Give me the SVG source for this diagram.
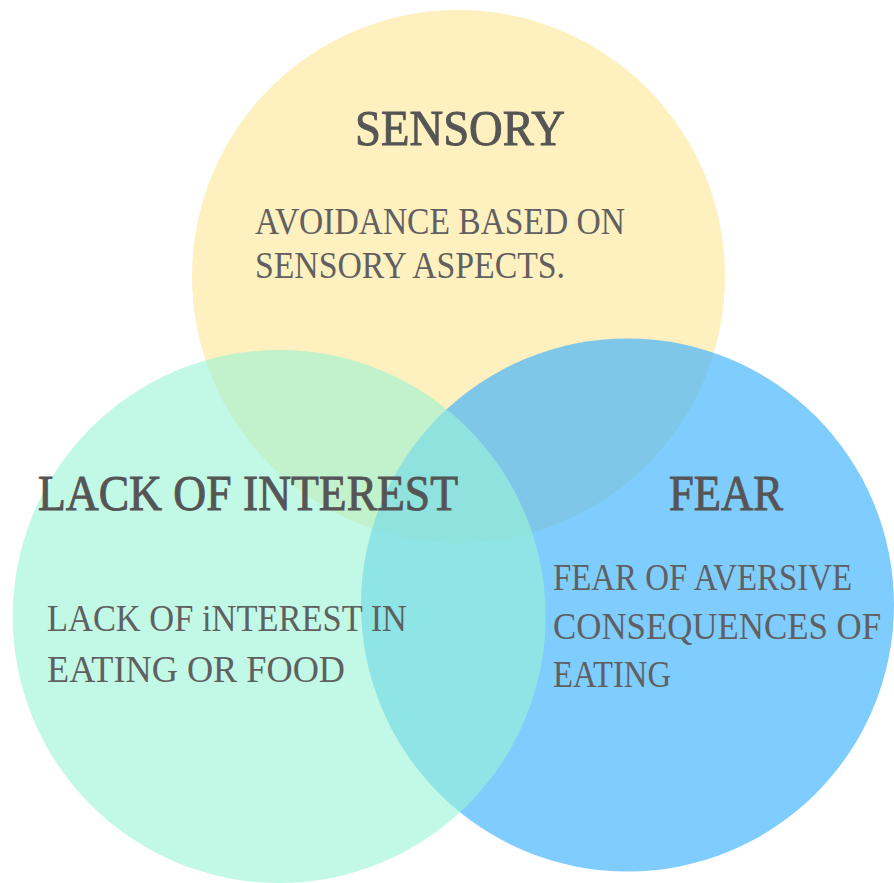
<svg xmlns="http://www.w3.org/2000/svg" width="894" height="883" viewBox="0 0 894 883">
<style>
.title{font-family:"Liberation Serif","Times New Roman",serif;font-size:50px;fill:#555555;stroke:#555555;stroke-width:0.9px;}
.body{font-family:"Liberation Serif","Times New Roman",serif;font-size:37px;fill:#606060;}
</style>
<rect width="894" height="883" fill="#ffffff"/>
<g id="sensory">
  <circle cx="458.5" cy="276.5" r="266.5" fill="#FEF0BF"/>
</g>
<g id="fear">
  <circle cx="627.5" cy="605" r="266.5" fill="#3AB1FE" fill-opacity="0.65"/>
</g>
<g id="lack-of-interest">
  <circle cx="279.2" cy="616.5" r="266.5" fill="#99F3D5" fill-opacity="0.6"/>
</g>
<g id="sensory-text">
  <text class="title" x="355" y="145" textLength="210" lengthAdjust="spacingAndGlyphs">SENSORY</text>
  <text class="body" x="255" y="234" textLength="370" lengthAdjust="spacingAndGlyphs">AVOIDANCE BASED ON</text>
  <text class="body" x="255" y="278" textLength="310" lengthAdjust="spacingAndGlyphs">SENSORY ASPECTS.</text>
</g>
<g id="lack-of-interest-text">
  <text class="title" x="38" y="510" textLength="420" lengthAdjust="spacingAndGlyphs">LACK OF INTEREST</text>
  <text class="body" x="47" y="631" textLength="360" lengthAdjust="spacingAndGlyphs">LACK OF iNTEREST IN</text>
  <text class="body" x="47" y="682" textLength="298" lengthAdjust="spacingAndGlyphs">EATING OR FOOD</text>
</g>
<g id="fear-text">
  <text class="title" x="669" y="510" textLength="114" lengthAdjust="spacingAndGlyphs">FEAR</text>
  <text class="body" x="553" y="590" textLength="299" lengthAdjust="spacingAndGlyphs">FEAR OF AVERSIVE</text>
  <text class="body" x="553" y="639" textLength="328" lengthAdjust="spacingAndGlyphs">CONSEQUENCES OF</text>
  <text class="body" x="553" y="687" textLength="118" lengthAdjust="spacingAndGlyphs">EATING</text>
</g>
</svg>
